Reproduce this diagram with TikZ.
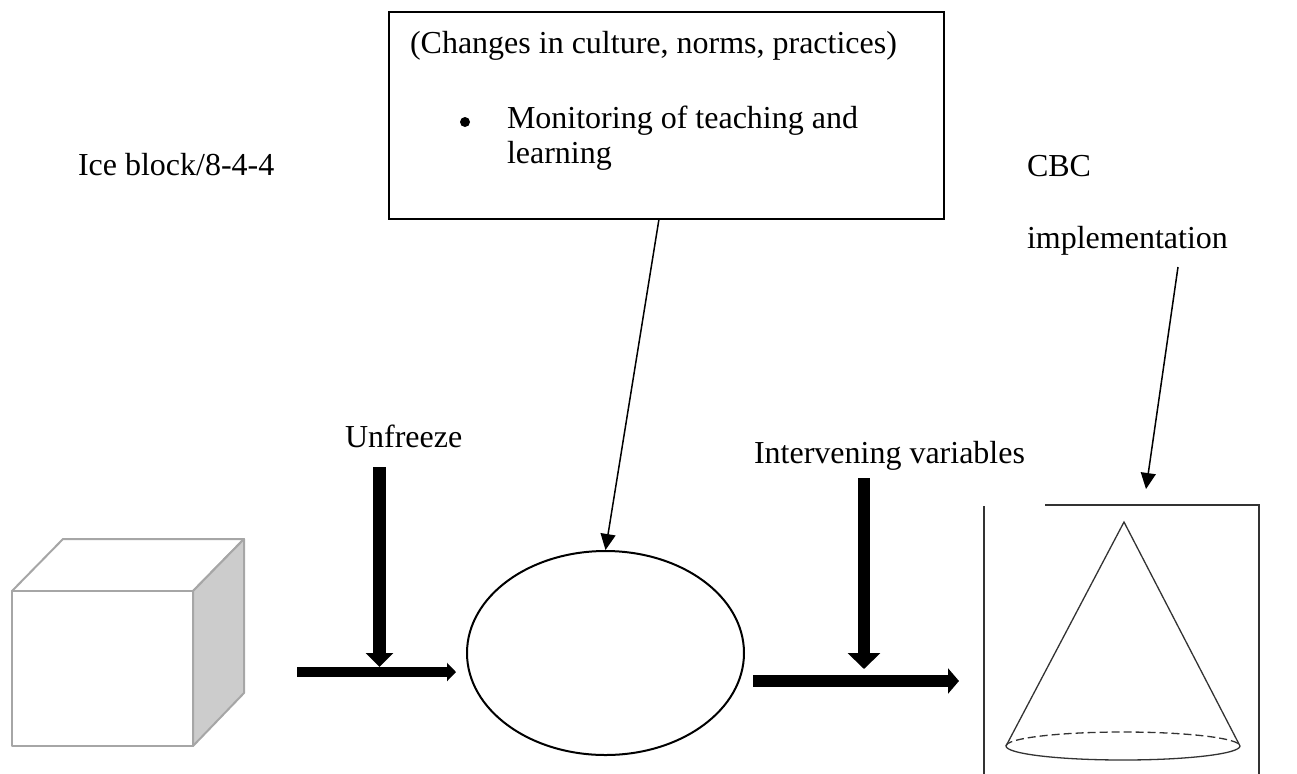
\documentclass[tikz,border=0pt]{standalone}
\usepackage{fontspec}
\setmainfont{Liberation Serif}
\usetikzlibrary{arrows.meta,shapes.geometric}
\begin{document}
\begin{tikzpicture}[x=0.5pt,y=-0.5pt,
  txt/.style={font=\fontsize{16}{17.5}\selectfont, inner sep=0, outer sep=0, anchor=base west},
  thin arrow/.style={line width=0.75pt, -{Triangle[width=7.5pt,length=8pt]}},
  cubeline/.style={draw=black!35, line width=1pt, line join=round},
  conline/.style={draw=black!80, line width=0.65pt}]
\useasboundingbox (0,0) rectangle (1297,773);

% ice block (cube)
\filldraw[cubeline, fill=white] (12,591) -- (63,539) -- (244,539) -- (193,591) -- cycle;
\filldraw[cubeline, fill=black!20] (193,591) -- (244,539) -- (244,693) -- (193,746) -- cycle;
\filldraw[cubeline, fill=white] (12,591) rectangle (193,746);

% labels
\node[txt] (ice) at (78,175) {Ice block/8-4-4};
\node[txt] (cbc) at (1027,176) {CBC};
\node[txt] (impl) at (1027,248) {implementation};
\node[txt] (unf) at (345,447) {Unfreeze};
\node[txt] (intv) at (754,463) {Intervening variables};

% top box
\node[draw, line width=0.9pt, minimum width=277.5pt, minimum height=103.5pt, inner sep=0] (box) at (666.5,115.5) {};
\node[txt] (t1) at (410,53) {(Changes in culture, norms, practices)};
\node[circle, fill, inner sep=0, minimum size=5pt] (bul) at (465,122) {};
\node[txt] (t2) at (507,128) {Monitoring of teaching and};
\node[txt] (t3) at (507,163) {learning};

% ellipse
\node[draw, ellipse, line width=1pt, minimum width=138.5pt, minimum height=102pt, inner sep=0] (ell) at (605.5,653) {};

% cone frame
\draw[conline] (1045,505) -- (1259,505) -- (1259,780);
\draw[conline] (984,506) -- (984,780);
% cone
\coordinate (apex) at (1124,522);
\coordinate (bl) at (1006,746);
\coordinate (br) at (1240,746);
\draw[conline] (bl) -- (apex) -- (br);
\draw[conline, dashed, dash pattern=on 4pt off 2pt] (bl) arc[start angle=180, end angle=360, x radius=117, y radius=14];
\draw[conline] (br) arc[start angle=0, end angle=180, x radius=117, y radius=14];

% thin arrows
\coordinate (a1) at (659,219);
\draw[thin arrow] (a1) -- (ell.north);
\coordinate (a2s) at (1178,267);
\coordinate (a2e) at (1146,489);
\draw[thin arrow] (a2s) -- (a2e);

% thick arrows - unfreeze
\coordinate (u1) at (379.5,467);
\coordinate (u2) at (379.5,667);
\draw[line width=6.5pt, -{Triangle[width=13.5pt,length=7pt]}] (u1) -- (u2);
\coordinate (h1) at (297,672);
\coordinate (h2) at (456,672);
\draw[line width=5pt, -{Triangle[width=9pt,length=4.5pt]}] (h1) -- (h2);

% thick arrows - intervening
\coordinate (v1) at (864,478);
\coordinate (v2) at (864,669);
\draw[line width=6pt, -{Triangle[width=16pt,length=8pt]}] (v1) -- (v2);
\coordinate (g1) at (753,681);
\coordinate (g2) at (959,681);
\draw[line width=6pt, -{Triangle[width=12.5pt,length=5.5pt]}] (g1) -- (g2);
\end{tikzpicture}
\end{document}
